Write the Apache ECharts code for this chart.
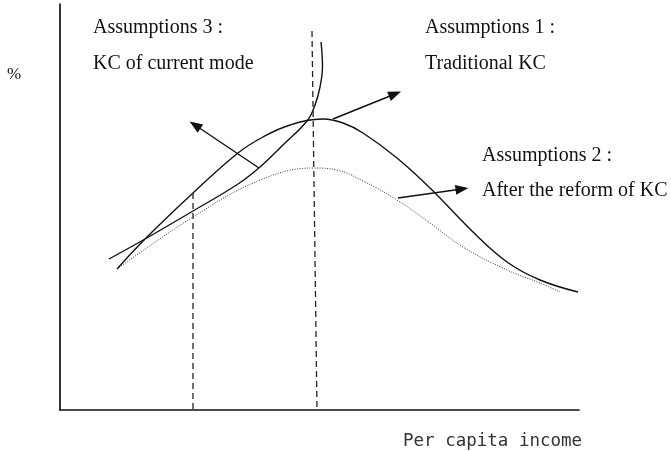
<!DOCTYPE html>
<html>
<head>
<meta charset="utf-8">
<script src="https://cdn.jsdelivr.net/npm/echarts@6/dist/echarts.min.js"></script>
<style>
  html, body { margin: 0; padding: 0; background: #fff; }
  #chart { width: 671px; height: 451px; }
</style>
</head>
<body>
<div id="chart"></div>
<script>
// Curve sketches on a plain income (x) / percent (y) plane, in chart units.
const traditionalKC = [
  [57, 141], [85, 171], [133, 217], [178, 257], [203, 273], [230, 285],
  [263, 291], [283, 287], [303, 277], [337, 252], [370, 222], [413, 178],
  [447, 148], [480, 130], [518, 118]
];
const reformedKC = [
  [57, 141], [133, 193], [198, 229], [253, 242], [277, 240], [303, 229],
  [337, 210], [370, 187], [403, 163], [447, 140], [480, 127], [500, 118]
];
const currentModeKC = [
  [49, 151], [85, 171], [133, 199], [178, 226], [200, 243], [223, 265],
  [247, 289], [255, 305], [260, 323], [262.5, 344], [261, 368]
];
// Vertical reference lines (turning points)
const guideA = [[133, 217], [133, 0]];
const guideB = [[252, 379], [257, 0]];
// Pointer arrows: [from, to]
const arrows = [
  [[199, 242], [135, 285]],
  [[273, 291], [335, 316]],
  [[338, 212], [402, 221]]
];
// Annotation texts
const notes = [
  { text: 'Assumptions 3 :', x: 93, y: 28 },
  { text: 'KC of current mode', x: 93, y: 64 },
  { text: 'Assumptions 1 :', x: 425, y: 28 },
  { text: 'Traditional KC', x: 425, y: 64 },
  { text: 'Assumptions 2 :', x: 482, y: 156 },
  { text: 'After the reform of KC', x: 482, y: 191 }
];
const yName = '%';
const xName = 'Per capita income';

const ink = '#111';
const chart = echarts.init(document.getElementById('chart'), null, { renderer: 'canvas' });

const solid = { color: ink, width: 1.4, type: 'solid' };
const base = { type: 'line', symbol: 'none', silent: true, animation: false, smooth: 0.4 };

chart.setOption({
  animation: false,
  grid: { left: 60, right: 92, top: 4, bottom: 41 },
  xAxis: {
    type: 'value', min: 0, max: 519,
    axisLine: { show: true, onZero: false, lineStyle: { color: ink, width: 1.7 } },
    axisTick: { show: false }, axisLabel: { show: false }, splitLine: { show: false }
  },
  yAxis: {
    type: 'value', min: 0, max: 406,
    axisLine: { show: true, onZero: false, lineStyle: { color: ink, width: 1.7 } },
    axisTick: { show: false }, axisLabel: { show: false }, splitLine: { show: false }
  },
  series: [
    Object.assign({}, base, { name: 'Traditional KC', data: traditionalKC, lineStyle: solid }),
    Object.assign({}, base, {
      name: 'After the reform of KC', data: reformedKC,
      lineStyle: { color: '#333', width: 1, type: [1, 1.5] }
    }),
    Object.assign({}, base, { name: 'KC of current mode', data: currentModeKC, lineStyle: solid }),
    Object.assign({}, base, {
      name: 'guideA', data: guideA, smooth: false,
      lineStyle: { color: '#222', width: 1.3, type: [6, 4] }
    }),
    Object.assign({}, base, {
      name: 'guideB', data: guideB, smooth: false,
      lineStyle: { color: '#222', width: 1.3, type: [6, 4] },
      markLine: {
        silent: true,
        symbol: ['none', 'triangle'],
        symbolSize: 12,
        label: { show: false },
        emphasis: { disabled: true },
        lineStyle: { color: ink, width: 1.4, type: 'solid' },
        data: arrows.map(a => [
          { coord: a[0], symbol: 'none' },
          { coord: a[1], symbol: 'triangle', symbolSize: [10, 13] }
        ])
      }
    })
  ],
  graphic: notes.map(n => ({
    type: 'text', left: n.x, top: n.y - 10, silent: true,
    style: { text: n.text, fill: ink, font: '20px "Liberation Serif", serif' }
  })).concat([
    {
      type: 'text', left: 7, top: 66, silent: true,
      style: { text: yName, fill: ink, font: '17px "Liberation Serif", serif' }
    },
    {
      type: 'text', left: 403, top: 432, silent: true,
      style: { text: xName, fill: '#333', font: '17.5px "DejaVu Sans Mono", monospace' }
    }
  ])
});
</script>
</body>
</html>
